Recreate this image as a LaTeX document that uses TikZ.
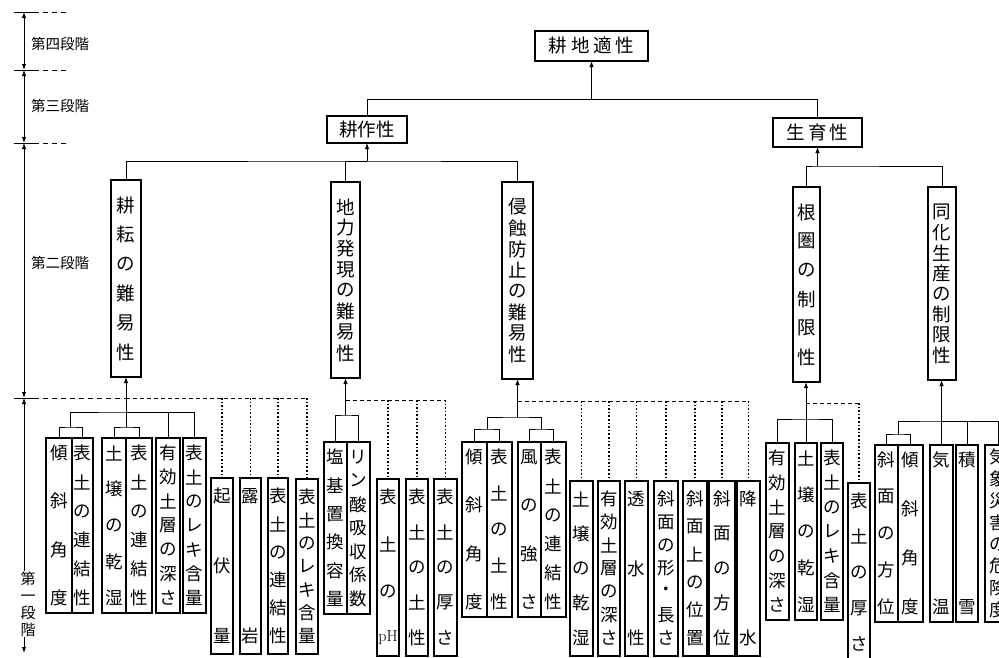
\documentclass[tikz,border=0pt]{standalone}
\usepackage{fontspec}
\newfontfamily\jp{Noto Sans CJK JP}
\usetikzlibrary{arrows.meta}
% #1 name, #2 x1, #3 y1, #4 x2, #5 y2, #6 pad, #7 count, #8 char style, #9 list
\newcommand{\tbox}[9]{%
  \node[bx, minimum width={#4-#2}, minimum height={#5-#3}] (#1) at ({(#2+#4)/2},{(#3+#5)/2}) {};
  \foreach \c [count=\i] in {#9} {
    \pgfmathsetmacro\yy{#3+#6+(\i-1)*(#5-#3-2*#6)/(#7-1)}
    \node[#8] (#1-\i) at ({(#2+#4)/2},\yy) {\c};
  }%
}
\begin{document}
\begin{tikzpicture}[x=1pt,y=-1pt,
  bx/.style={draw, line width=1.2pt, inner sep=0pt, outer sep=0pt},
  chA/.style={inner sep=0pt, font=\jp\fontsize{17.5}{17.5}\selectfont},
  chB/.style={inner sep=0pt, font=\jp\fontsize{18.5}{18.5}\selectfont},
  ttl/.style={font=\jp\fontsize{18.5}{18.5}\selectfont},
  lbl/.style={fill=white, inner sep=1pt, font=\jp\fontsize{14.5}{14.5}\selectfont},
  ln/.style={line width=1pt},
  arr/.style={line width=1pt, -{Latex[length=6pt,width=4.5pt]}},
  dsh/.style={line width=0.9pt, dash pattern=on 4pt off 3pt},
  dotl/.style={line width=1.3pt, dash pattern=on 1.6pt off 2pt},
  bnd/.style={line width=0.8pt, dash pattern=on 5pt off 4pt},
  sc/.style={line width=1pt, {Latex[length=6pt,width=4.5pt]}-{Latex[length=6pt,width=4.5pt]}}
]
\fill[white] (0,0) rectangle (999,657);
\useasboundingbox (0,0) rectangle (999,657);

% ---------- scale on the left ----------
\foreach \yb in {12,70,143} {
  \draw[ln] (14,\yb) -- (34,\yb);
  \draw[bnd] (34,\yb) -- (68,\yb);
}
\draw[ln] (14,398) -- (34,398);
\draw[sc] (24,12) -- (24,70);
\draw[sc] (24,70) -- (24,143);
\draw[sc] (24,143) -- (24,398);
\draw[sc] (24,398) -- (24,653);
\node[lbl] (L4) at (60,44) {第四段階};
\node[lbl] (L3) at (60,106) {第三段階};
\node[lbl] (L2) at (60,263) {第二段階};
\node[lbl, align=center, font=\jp\fontsize{15}{17}\selectfont] (L1) at (28,604) {第\\一\\段\\階};

% ---------- levels 4 and 3 ----------
\node[bx, minimum width=113, minimum height=30, ttl] (top) at (591.5,46) {耕\hspace{4pt}地\hspace{4pt}適\hspace{4pt}性};
\node[bx, minimum width=80, minimum height=27, ttl] (kousaku) at (367,129.5) {耕作性};
\node[bx, minimum width=89, minimum height=29, ttl] (seiiku) at (817.5,132.5) {生\hspace{3pt}育\hspace{3pt}性};
\coordinate (j4) at (591.5,99.5);
\draw[ln] (kousaku.north) |- (j4) -| (seiiku.north);
\draw[arr] (j4) -- (top.south);

% ---------- level 2 ----------
\tbox{kouun}{111}{180}{141}{377}{25}{6}{chB}{耕,耘,の,難,易,性}
\tbox{chiryoku}{331}{182}{360}{378}{25}{8}{chB}{地,力,発,現,の,難,易,性}
\tbox{shin}{502}{182}{533}{379}{25}{8}{chB}{侵,蝕,防,止,の,難,易,性}
\tbox{konken}{793}{187}{820}{382}{25}{6}{chB}{根,圏,の,制,限,性}
\tbox{douka}{928}{187}{956}{380}{25}{8}{chB}{同,化,生,産,の,制,限,性}

\coordinate (j3a) at (367,161);
\draw[ln] (kouun.north) |- (j3a) -| (shin.north);
\draw[ln] (j3a) -| (chiryoku.north);
\draw[arr] (j3a) -- (kousaku.south);
\coordinate (j3b) at (817.5,166);
\draw[ln] (konken.north) |- (j3b) -| (douka.north);
\draw[arr] (j3b) -- (seiiku.south);

% ---------- level 1 : 耕耘の難易性 ----------
\tbox{k1}{46}{438}{72}{613}{15}{4}{chA}{傾,斜,角,度}
\tbox{k2}{72}{438}{93}{613}{15}{6}{chA}{表,土,の,連,結,性}
\tbox{k3}{102}{438}{126}{613}{15}{5}{chA}{土,壌,の,乾,湿}
\tbox{k4}{126}{438}{152}{613}{15}{6}{chA}{表,土,の,連,結,性}
\tbox{k5}{156}{438}{180}{613}{15}{7}{chA}{有,効,土,層,の,深,さ}
\tbox{k6}{183}{438}{206}{613}{15}{7}{chA}{表,土,の,レ,キ,含,量}
\tbox{k7}{211}{478}{233}{654}{18}{3}{chA}{起,伏,量}
\tbox{k8}{240}{478}{261}{654}{18}{2}{chA}{露,岩}
\tbox{k9}{268}{478}{288}{654}{18}{6}{chA}{表,土,の,連,結,性}
\tbox{k10}{296}{479}{318}{654}{18}{7}{chA}{表,土,の,レ,キ,含,量}
\coordinate (kp1) at (70.5,427);
\coordinate (kp2) at (126,427);
\coordinate (km) at (126,412);
\draw[ln] (k1.north) |- (kp1) -| (k2.north);
\draw[ln] (k3.north) |- (kp2) -| (k4.north);
\draw[ln] (kp1) |- (km) -| (k6.north);
\draw[ln] (km) -| (k5.north);
\draw[arr] (kp2) -- (kp2 |- kouun.south);
\coordinate (kd) at (126,398);
\draw[bnd] (34,398) -- (kd);
\draw[dsh] (kd) -- (kd -| k10.north);
\foreach \b in {k7,k8,k9,k10} \draw[dotl] (\b.north |- kd) -- (\b.north);

% ---------- level 1 : 地力発現の難易性 ----------
\tbox{c1}{324}{442}{347}{614}{15}{6}{chA}{塩,基,置,換,容,量}
\tbox{c2}{347}{442}{370}{614}{15}{7}{chA}{リ,ン,酸,吸,収,係,数}
\tbox{c3}{377}{479}{399}{656}{18}{4}{chA}{表,土,の,{\rmfamily\fontsize{16}{16}\selectfont pH}}
\tbox{c4}{406}{479}{428}{656}{18}{5}{chA}{表,土,の,土,性}
\tbox{c5}{434}{479}{457}{656}{18}{5}{chA}{表,土,の,厚,さ}
\coordinate (cp) at (345.5,415);
\draw[ln] (c1.north) |- (cp) -| (c2.north);
\draw[arr] (cp) -- (cp |- chiryoku.south);
\coordinate (cd) at (345.5,400);
\draw[dsh] (cd) -- (cd -| c5.north);
\foreach \b in {c3,c4,c5} \draw[dotl] (\b.north |- cd) -- (\b.north);

% ---------- level 1 : 侵蝕防止の難易性 ----------
\tbox{s1}{462}{442}{487}{617}{15}{4}{chA}{傾,斜,角,度}
\tbox{s2}{487}{442}{512}{617}{15}{5}{chA}{表,土,の,土,性}
\tbox{s3}{518}{442}{541}{617}{15}{4}{chA}{風,の,強,さ}
\tbox{s4}{541}{442}{566}{617}{15}{6}{chA}{表,土,の,連,結,性}
\tbox{s5}{570}{481}{593}{656}{18}{5}{chA}{土,壌,の,乾,湿}
\tbox{s6}{598}{481}{620}{656}{18}{7}{chA}{有,効,土,層,の,深,さ}
\tbox{s7}{625}{481}{648}{656}{18}{3}{chA}{透,水,性}
\tbox{s8}{654}{481}{678}{656}{18}{7}{chA}{斜,面,の,形,・,長,さ}
\tbox{s9}{683}{481}{707}{656}{18}{6}{chA}{斜,面,上,の,位,置}
\tbox{s10}{709}{481}{735}{656}{18}{5}{chA}{斜,面,の,方,位}
\tbox{s11}{737}{481}{760}{656}{18}{2}{chA}{降,水}
\coordinate (sp1) at (487,429);
\coordinate (sp2) at (541.5,429);
\coordinate (sm) at (517.5,417);
\draw[ln] (s1.north) |- (sp1) -| (s2.north);
\draw[ln] (s3.north) |- (sp2) -| (s4.north);
\draw[ln] (sp1) |- (sm) -| (sp2);
\draw[arr] (sm) -- (sm |- shin.south);
\coordinate (sd) at (517.5,401);
\draw[dsh] (sd) -- (sd -| s11.north);
\foreach \b in {s5,s6,s7,s8,s9,s10,s11} \draw[dotl] (\b.north |- sd) -- (\b.north);

% ---------- level 1 : 根圏の制限性 ----------
\tbox{r1}{766}{443}{789}{620}{15}{7}{chA}{有,効,土,層,の,深,さ}
\tbox{r2}{795}{443}{817}{620}{15}{5}{chA}{土,壌,の,乾,湿}
\tbox{r3}{821}{443}{843}{620}{15}{7}{chA}{表,土,の,レ,キ,含,量}
\tbox{r4}{848}{483}{870}{662}{18}{5}{chA}{表,土,の,厚,さ}
\coordinate (rm) at (806,419);
\draw[ln] (r1.north) |- (rm) -| (r3.north);
\draw[arr] (r2.north) -- (r2.north |- konken.south);
\coordinate (rd) at (806,403);
\draw[dsh] (rd) -- (rd -| r4.north);
\draw[dotl] (r4.north |- rd) -- (r4.north);

% ---------- level 1 : 同化生産の制限性 ----------
\tbox{d1}{875}{445}{898}{622}{15}{5}{chA}{斜,面,の,方,位}
\tbox{d2}{898}{445}{923}{622}{15}{4}{chA}{傾,斜,角,度}
\tbox{d3}{930}{445}{953}{622}{15}{2}{chA}{気,温}
\tbox{d4}{956}{445}{978}{622}{15}{2}{chA}{積,雪}
\tbox{d5}{985}{445}{1011}{622}{12}{8}{chA}{気,象,災,害,の,危,険,度}
\coordinate (dp) at (898.5,434);
\coordinate (dm) at (941.5,421);
\draw[ln] (d1.north) |- (dp) -| (d2.north);
\draw[ln] (dp) |- (dm) -| (d5.north);
\draw[ln] (dm) -| (d4.north);
\draw[arr] (d3.north) -- (d3.north |- douka.south);
\end{tikzpicture}
\end{document}
